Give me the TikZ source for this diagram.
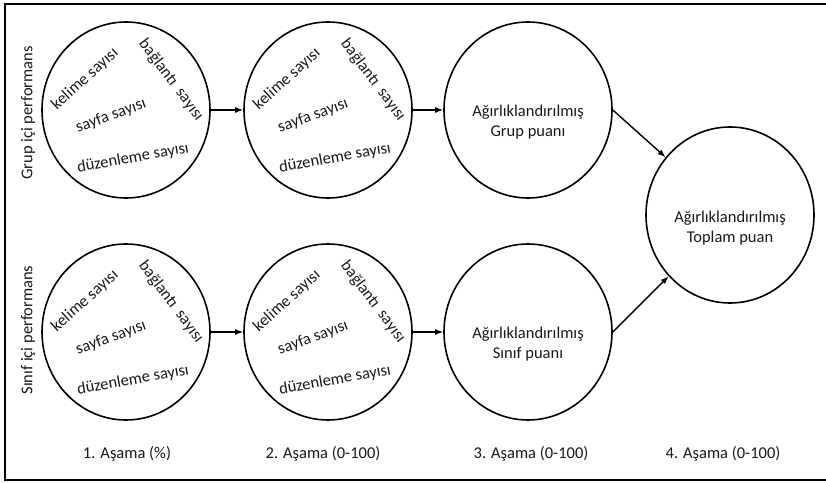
\documentclass[tikz,border=0pt]{standalone}
\usepackage{fontspec}
\setmainfont{Carlito}
\usetikzlibrary{positioning,calc,shapes.geometric,arrows.meta}
% four count labels around the centre of one stage
\newcommand\countlabels[1]{%
  \node (#1-k) [rotate=42] at ($(#1)+(-41,31)$) {kelime sayısı};
  \node (#1-b) [rotate=-53] at ($(#1)+(45,30)$) {bağlantı\ \ sayısı};
  \node (#1-s) [rotate=20] at ($(#1)+(-15,-6)$) {sayfa sayısı};
  \node (#1-d) [rotate=10] at ($(#1)+(7,-48)$) {düzenleme sayısı};}

\begin{document}
\begin{tikzpicture}[x=1pt,y=1pt,
  every node/.style={font=\fontsize{16.5}{20}\selectfont, text=black!90, inner sep=0pt},
  stage/.style={ellipse, draw, line width=1.6pt, minimum width=168pt, minimum height=176pt},
  flow/.style={-{Latex[length=8pt,width=6pt]}, line width=1.4pt}]
  \useasboundingbox (0,0) rectangle (826,482);
  \draw[line width=2pt] (4.5,2) rectangle (840,478);

  % group row
  \node (g1) [stage] at (126,372) {};
  \node (g2) [stage, on grid, right=202pt of g1] {};
  \node (g3) [stage, on grid, right=200pt of g2] {};
  % class row
  \node (s1) [stage] at (126,150) {};
  \node (s2) [stage, on grid, right=202pt of s1] {};
  \node (s3) [stage, on grid, right=200pt of s2] {};
  % total
  \node (t4) [stage] at (730,267) {};

  \countlabels{g1}
  \countlabels{g2}
  \countlabels{s1}
  \countlabels{s2}
  \node (g3-t) [align=center] at ($(g3)+(0,-12)$) {Ağırlıklandırılmış\\Grup puanı};
  \node (s3-t) [align=center] at ($(s3)+(0,-12)$) {Ağırlıklandırılmış\\Sınıf puanı};
  \node (t4-t) [align=center] at ($(t4)+(0,-13)$) {Ağırlıklandırılmış\\Toplam puan};

  \draw[flow] (g1) -- (g2);
  \draw[flow] (g2) -- (g3);
  \draw[flow] (s1) -- (s2);
  \draw[flow] (s2) -- (s3);
  \draw[flow] (g3.east) -- (t4);
  \draw[flow] (s3.east) -- (t4);

  \node (gl) [rotate=90] at (28,369) {Grup içi performans};
  \node (sl) [rotate=90] at (28,152) {Sınıf içi performans};

  \node (a1) at (127,28) {1. Aşama (\%)};
  \node (a2) at (323,28) {2. Aşama (0-100)};
  \node (a3) at (531,28) {3. Aşama (0-100)};
  \node (a4) at (723,28) {4. Aşama (0-100)};
\end{tikzpicture}
\end{document}
